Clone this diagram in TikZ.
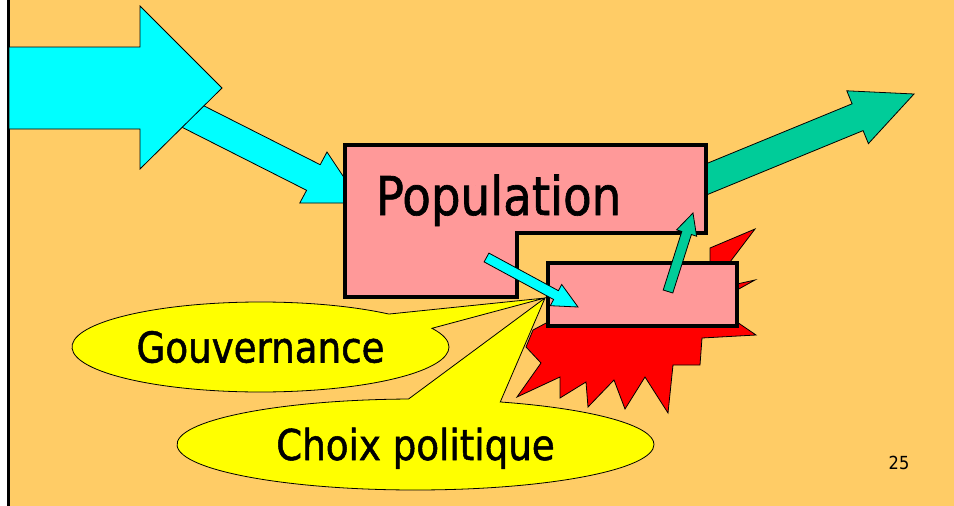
\documentclass[tikz,border=0pt]{standalone}
\usepackage{fontspec}
\setmainfont{DejaVu Sans}[FakeStretch=0.875, FakeBold=1.2]
\newfontfamily\slidenumfont{DejaVu Sans}[FakeStretch=0.9]
\usetikzlibrary{shapes.callouts}
\definecolor{slideorange}{HTML}{FFCC66}
\definecolor{flowcyan}{HTML}{00FFFF}
\definecolor{flowteal}{HTML}{00CC99}
\definecolor{boxpink}{HTML}{FF9999}
\definecolor{crisisred}{HTML}{FF0000}
\definecolor{bubbleyellow}{HTML}{FFFF00}

\tikzset{
  blockarrow/.style={draw=black, line width=0.8pt, line join=miter},
  boxline/.style={draw=black, fill=boxpink, line width=3.5pt, line join=miter},
  bubble/.style={ellipse callout, draw=black, fill=bubbleyellow, line width=0.8pt,
    inner sep=0pt, callout pointer arc=22.5,
    font=\fontsize{42.5}{50}\selectfont, text height=31pt, text depth=0pt}
}

\begin{document}
\begin{tikzpicture}[x=1pt, y=-1pt]
  \useasboundingbox (0,0) rectangle (954,506);

  % Slide background
  \fill[white] (0,0) rectangle (954,506);
  \fill[slideorange] (9,0) rectangle (954,506);
  \draw[black, line width=2.5pt] (8.5,0) -- (8.5,506);

  % Inflow arrows
  \filldraw[blockarrow, fill=flowcyan] (186.8,97.2) -- (320.2,164.7) -- (327,152) -- (361,203)
    -- (299.8,203) -- (306.6,190.3) -- (173.2,122.8) -- cycle;
  \filldraw[blockarrow, fill=flowcyan] (9,47) -- (140,47) -- (140,6) -- (222,88)
    -- (140,169) -- (140,129) -- (9,129) -- cycle;

  % Outflow arrow
  \filldraw[blockarrow, fill=flowteal] (685.6,172.2) -- (852.1,103.8) -- (846.8,90.8) -- (914,94)
    -- (868.4,143.6) -- (863.1,130.6) -- (696.6,199) -- cycle;

  % Crisis burst
  \filldraw[blockarrow, fill=crisisred] (548,322) -- (533,330) -- (526,347) -- (541,363)
    -- (517,397) -- (560,377) -- (560,398) -- (586,382) -- (588,407) -- (614,380)
    -- (625,409) -- (645,377) -- (668,413) -- (673,365) -- (700,365) -- (702,338)
    -- (756,335) -- (737,322) -- (737,290) -- (755,280) -- (737,284) -- (730,262)
    -- (755,229) -- (710,248) -- (710,268) -- cycle;

  % Population and sub-group boxes
  \filldraw[boxline] (345,145) -- (706,145) -- (706,233) -- (517,233) -- (517,297)
    -- (345,297) -- cycle;
  \node[anchor=base, inner sep=0pt, font=\fontsize{53.4}{60}\selectfont] (population) at (498.5,215) {Population};
  \filldraw[boxline] (548,263) rectangle (737,326);

  % Small exchange arrows
  \filldraw[blockarrow, fill=flowcyan] (488.9,253.1) -- (558.4,290.7) -- (561.7,284.5) -- (578,307)
    -- (550.3,305.7) -- (553.6,299.5) -- (484.1,261.9) -- cycle;
  \filldraw[blockarrow, fill=flowteal] (663.2,290) -- (681.8,231.5) -- (676.6,229.8) -- (693,213)
    -- (696.6,236.2) -- (691.4,234.5) -- (672.8,293) -- cycle;

  % Callouts
  \node[bubble, minimum width=377pt, minimum height=90pt,
    callout absolute pointer={(545,298)}] (gouvernance) at (260.5,347) {Gouvernance};
  \node[bubble, minimum width=477pt, minimum height=91pt,
    callout absolute pointer={(545,298)}] (choix) at (415.5,444.5) {Choix politique};

  % Slide number
  \node[inner sep=0pt, font=\slidenumfont\fontsize{18}{20}\selectfont, text height=13pt, text depth=0pt] (slidenum) at (899,463) {25};
\end{tikzpicture}
\end{document}
